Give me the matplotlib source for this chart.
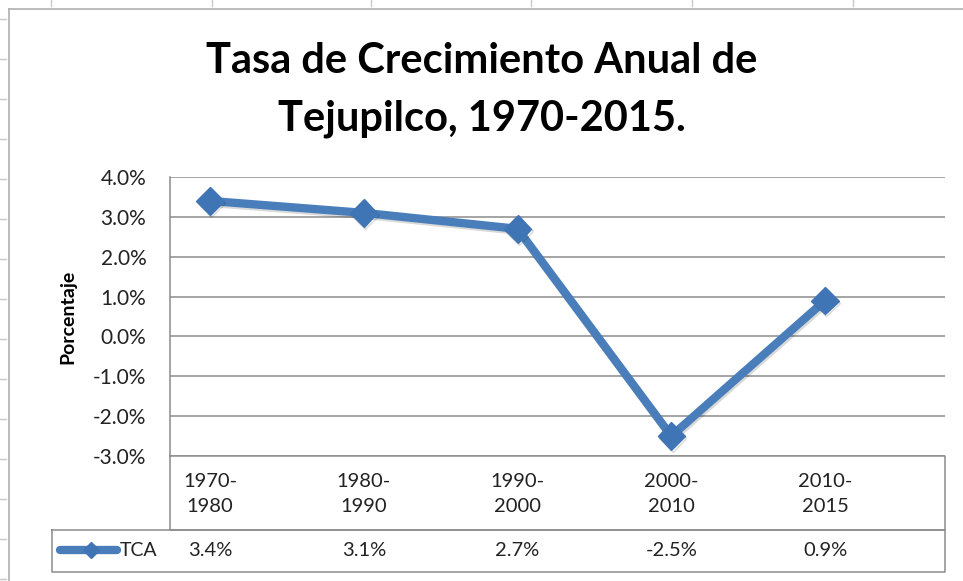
import matplotlib.pyplot as plt
from matplotlib.lines import Line2D
from matplotlib.transforms import blended_transform_factory
import matplotlib.patheffects as pe

periodos = ['1970-\n1980', '1980-\n1990', '1990-\n2000', '2000-\n2010', '2010-\n2015']
tca = [3.4, 3.1, 2.7, -2.5, 0.9]
tca_labels = ['3.4%', '3.1%', '2.7%', '-2.5%', '0.9%']
yticks = [4, 3, 2, 1, 0, -1, -2, -3]

plt.rcParams['font.family'] = ['Lato', 'DejaVu Sans']

W, H = 963, 581
fig = plt.figure(figsize=(W / 100, H / 100), dpi=100)

def fx(px):
    return px / W

def fy(py):
    return 1 - py / H

# spreadsheet frame around the chart
grey = '#c8c8c8'
fig.add_artist(Line2D([fx(9), fx(9)], [fy(9), 0], color='#b0b0b0', lw=1.2))
fig.add_artist(Line2D([fx(9), 1], [fy(9), fy(9)], color='#b0b0b0', lw=1.2))
for px in [51, 212, 371, 531, 692, 853]:
    fig.add_artist(Line2D([fx(px), fx(px)], [1, fy(6)], color=grey, lw=1))
for py in range(19, 581, 40):
    fig.add_artist(Line2D([0, fx(6)], [fy(py), fy(py)], color=grey, lw=1))

# plot area
left, right, top, bottom = 170, 945, 177, 456
ax = fig.add_axes([fx(left), fy(bottom), fx(right - left), (bottom - top) / H])
x = list(range(len(tca)))
ax.plot(x, tca, color='#4a7ebb', lw=6, marker='D', ms=14, mec='#3f74b5',
        mfc='#3f74b5', solid_capstyle='round',
        path_effects=[pe.SimpleLineShadow(offset=(1, -1.5), alpha=0.15), pe.Normal()])
ax.set_ylim(-3, 4)
ax.set_xlim(-0.26, 4.78)
ax.set_yticks(yticks)
ax.set_yticklabels([f'{v:.1f}%' for v in yticks], fontsize=15, color='#222222')
ax.set_xticks([])
ax.tick_params(axis='y', length=0, pad=17)
ax.grid(axis='y', color='#8c8c8c', lw=1.1)
ax.set_axisbelow(True)
for s in ['top', 'right', 'bottom']:
    ax.spines[s].set_visible(False)
ax.spines['left'].set_color('#8c8c8c')
ax.spines['left'].set_linewidth(1.1)
ax.set_ylabel('Porcentaje', fontsize=14, fontweight='bold', labelpad=12)

# data table under the plot
tr = blended_transform_factory(ax.transData, ax.transAxes)
ah = bottom - top
row1 = -(530 - bottom) / ah
row2 = -(572 - bottom) / ah
xl, xr = ax.get_xlim()
lc = '#8c8c8c'
ax.plot([xl, xr, xr, xl, xl], [0, 0, row1, row1, 0], transform=tr, color=lc, lw=1.1, clip_on=False)
key_x0 = xl - (left - 52) / 154
ax.plot([key_x0, xr, xr, key_x0, key_x0], [row1, row1, row2, row2, row1], transform=tr,
        color=lc, lw=1.1, clip_on=False)
for xi, per, lab in zip(x, periodos, tca_labels):
    ax.text(xi, -(494 - bottom) / ah, per, transform=tr, ha='center', va='center',
            fontsize=14.5, color='#222222', linespacing=1.55)
    ax.text(xi, -(551 - bottom) / ah, lab, transform=tr, ha='center', va='center',
            fontsize=14.5, color='#222222')

# legend key in the table
ky = -(550 - bottom) / ah
ax.plot([xl - (left - 60) / 154, xl - (left - 117) / 154], [ky, ky], transform=tr,
        color='#4a7ebb', lw=6, solid_capstyle='round', clip_on=False)
ax.plot([xl - (left - 91) / 154], [ky], transform=tr, marker='D', ms=8,
        color='#3f74b5', clip_on=False)
ax.text(xl - (left - 120) / 154, ky, 'TCA', transform=tr, ha='left', va='center',
        fontsize=14, color='#222222')

fig.text(0.5, fy(61), 'Tasa de Crecimiento Anual de', ha='center', va='center',
         fontsize=30, fontweight='bold')
fig.text(0.5, fy(119), 'Tejupilco, 1970-2015.', ha='center', va='center',
         fontsize=30, fontweight='bold')

fig.savefig('out.png', dpi=100)
